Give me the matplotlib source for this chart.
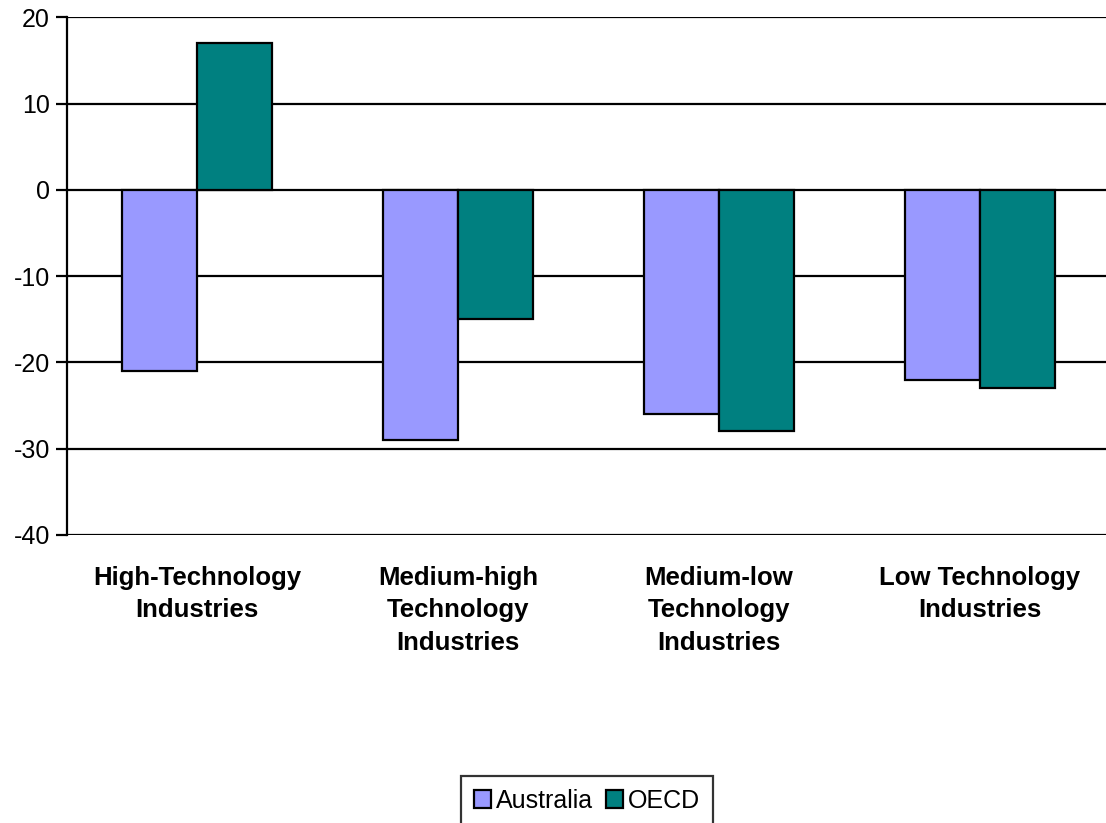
import matplotlib
import matplotlib.pyplot as plt
import numpy as np

matplotlib.use('Agg')
plt.rcParams['font.family'] = ['Liberation Sans', 'DejaVu Sans']
plt.rcParams['axes.unicode_minus'] = False

# data
categories = ["High-Technology\nIndustries", "Medium-high\nTechnology\nIndustries",
              "Medium-low\nTechnology\nIndustries", "Low Technology\nIndustries"]
australia = [-21, -29, -26, -22]
oecd = [17, -15, -28, -23]

fig = plt.figure(figsize=(11.06, 8.23), dpi=100)
ax = fig.add_axes([66.5 / 1106, 0.35, 1 - 66.5 / 1106, 0.979 - 0.35])

x = np.arange(len(categories))
w = 0.287
ax.bar(x - w / 2, australia, w, color='#9999FF', edgecolor='black', linewidth=1.6,
       label='Australia', zorder=3)
ax.bar(x + w / 2, oecd, w, color='#008080', edgecolor='black', linewidth=1.6,
       label='OECD', zorder=3)

ax.set_ylim(-40, 20)
ax.set_yticks(range(-40, 21, 10))
ax.set_xlim(-0.5, 3.483)
ax.yaxis.grid(True, color='black', linewidth=1.6, zorder=0)
ax.set_axisbelow(True)

for s in ['top', 'right', 'bottom']:
    ax.spines[s].set_visible(False)
ax.spines['left'].set_linewidth(1.6)

ax.set_xticks(x)
ax.set_xticklabels(categories, fontsize=18.5, fontweight='bold', linespacing=1.45)
ax.tick_params(axis='x', length=0, pad=22)
ax.tick_params(axis='y', labelsize=18, length=8, width=1.6, pad=4)

leg = fig.legend(loc='upper center', bbox_to_anchor=(587 / 1106, 1 - 776 / 823),
                 ncol=2, fontsize=18, frameon=True, fancybox=False,
                 handlelength=0.7, handleheight=0.7, handletextpad=0.2,
                 columnspacing=0.5, borderpad=0.5, borderaxespad=0)
leg.get_frame().set_edgecolor('black')
leg.get_frame().set_linewidth(1.6)

fig.savefig('out.png', dpi=100)
